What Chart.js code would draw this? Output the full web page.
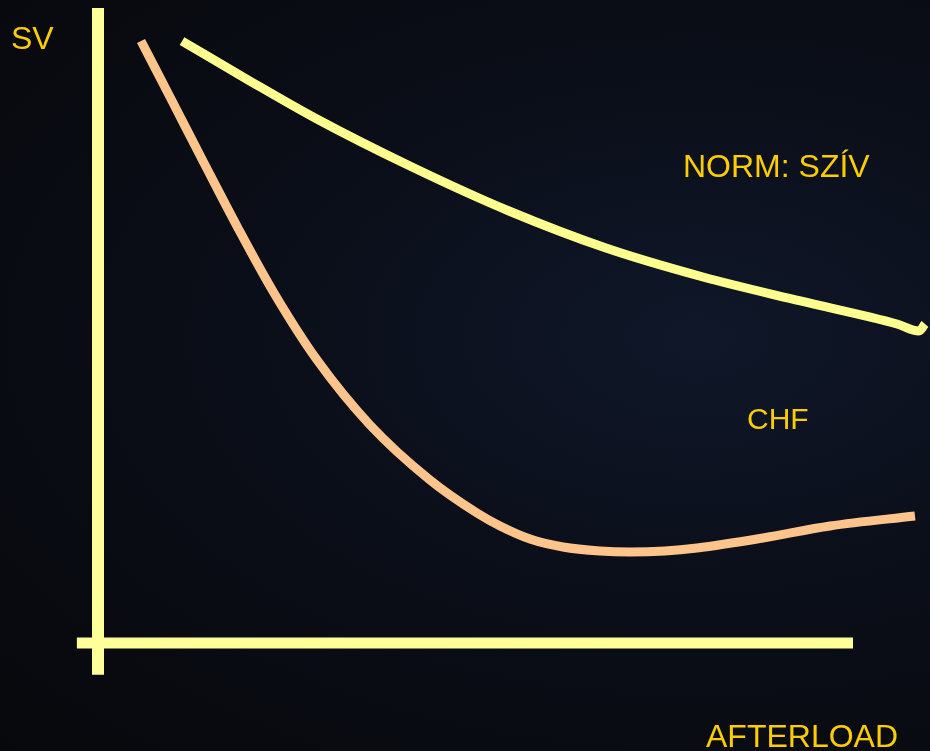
<!DOCTYPE HTML>
<html>

<head>
    <meta charset="utf-8">
    <script src="https://cdn.jsdelivr.net/npm/chart.js@4.4.1/dist/chart.umd.min.js"></script>

    <style>
        html, body {
            margin: 0;
            padding: 0;
            overflow: hidden;
        }

        body {
            width: 930px;
            height: 751px;
            background: radial-gradient(ellipse at 75% 45%, #0f1729 0%, #0a0e18 45%, #07080b 100%);
            font-family: "Liberation Sans", Arial, sans-serif;
        }

        .wrap {
            position: absolute;
            left: 0;
            top: 0;
            width: 930px;
            height: 751px;
        }

        .lbl {
            position: absolute;
            color: #ffcc00;
            font-size: 32px;
            line-height: 1;
            white-space: nowrap;
        }
    </style>
</head>

<body>
    <div class="wrap">
        <canvas id="myChart"></canvas>
    </div>
    <div class="lbl" style="left:11px; top:22px;">SV</div>
    <div class="lbl" style="left:683px; top:150px;">NORM: SZÍV</div>
    <div class="lbl" style="left:747px; top:404px; font-size:30px;">CHF</div>
    <div class="lbl" style="left:706px; top:720px;">AFTERLOAD</div>
</body>
<script>
    // afterload (x) and stroke volume (y), arbitrary units, origin at the axes crossing
    var normX = [11.13, 20.13, 28.74, 41.59, 54.44, 67.28, 80.13, 93.03, 105.83, 108.74, 109.54];
    var normY = [94.80, 88.50, 82.68, 74.96, 68.03, 62.20, 57.64, 53.86, 50.24, 49.13, 50.24];

    var chfX = [5.70, 9.54, 14.04, 18.54, 23.31, 29.01, 36.03, 43.97, 50.20, 53.25, 57.22, 61.59, 66.49, 70.46, 75.10, 79.34, 88.08, 96.95, 108.21];
    var chfY = [94.80, 85.98, 75.59, 65.35, 55.12, 44.57, 34.33, 25.67, 20.47, 18.43, 16.38, 15.12, 14.49, 14.33, 14.49, 14.96, 16.54, 18.43, 20.00];

    // the two drawn axes
    var axisXLine = [[-2.8, 0], [100, 0]];
    var axisYLine = [[0, -5.0], [0, 100]];

    function toPoints(xs, ys) {
        var pts = [];
        for (var i = 0; i < xs.length; i++) {
            pts.push({ x: xs[i], y: ys[i] });
        }
        return pts;
    }

    function pairPoints(arr) {
        return arr.map(function (p) { return { x: p[0], y: p[1] }; });
    }

    var chart = new Chart("myChart", {
        type: "scatter",
        data: {
            datasets: [{
                label: "y axis",
                data: pairPoints(axisYLine),
                showLine: true,
                borderColor: "#ffff99",
                borderWidth: 12,
                borderCapStyle: "butt",
                pointRadius: 0,
                tension: 0
            }, {
                label: "x axis",
                data: pairPoints(axisXLine),
                showLine: true,
                borderColor: "#ffff99",
                borderWidth: 11,
                borderCapStyle: "butt",
                pointRadius: 0,
                tension: 0
            }, {
                label: "NORM: SZÍV",
                data: toPoints(normX, normY),
                showLine: true,
                borderColor: "#ffff8f",
                borderWidth: 9,
                borderCapStyle: "butt",
                borderJoinStyle: "round",
                pointRadius: 0,
                cubicInterpolationMode: "monotone"
            }, {
                label: "CHF",
                data: toPoints(chfX, chfY),
                showLine: true,
                borderColor: "#ffc48c",
                borderWidth: 9,
                borderCapStyle: "butt",
                borderJoinStyle: "round",
                pointRadius: 0,
                cubicInterpolationMode: "monotone"
            }]
        },
        options: {
            responsive: true,
            maintainAspectRatio: false,
            animation: false,
            layout: { padding: 0 },
            plugins: {
                legend: { display: false },
                tooltip: { enabled: false }
            },
            scales: {
                x: { type: "linear", display: false, min: -12.98, max: 110.2 },
                y: { type: "linear", display: false, min: -17.01, max: 101.26 }
            }
        }
    });
</script>

</html>
